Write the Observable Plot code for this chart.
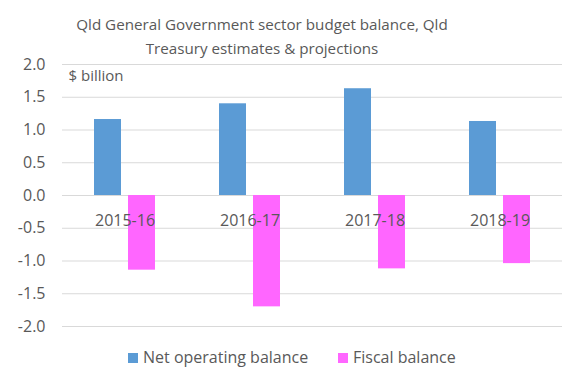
<!DOCTYPE html>
<html>
<head>
<meta charset="utf-8">
<script src="https://cdn.jsdelivr.net/npm/d3@7"></script>
<script src="https://cdn.jsdelivr.net/npm/@observablehq/plot@0.6"></script>
<style>
  body { margin: 0; background: #fff; }
  #wrap { position: relative; width: 578px; height: 383px; font-family: "Open Sans", sans-serif; color: #595959; }
  #title { position: absolute; left: 0; top: 12px; width: 524px; text-align: center; font-size: 15.2px; line-height: 24px; }
  .leg { position: absolute; top: 347px; font-size: 16px; line-height: 20px; white-space: nowrap; }
  .sw { display: inline-block; width: 10px; height: 10px; margin-right: 5px; vertical-align: 0px; }
  #chart { position: absolute; left: 0; top: 0; }
</style>
</head>
<body>
<div id="wrap">
  <div id="chart"></div>
  <div id="title">Qld General Government sector budget balance, Qld<br>Treasury estimates &amp; projections</div>
  <div id="legend"></div>
</div>
<script>
const years = ["2015-16", "2016-17", "2017-18", "2018-19"];
const series = ["Net operating balance", "Fiscal balance"];
const netOperating = [1.16, 1.40, 1.63, 1.13];
const fiscal = [-1.14, -1.70, -1.12, -1.04];
const colors = ["#5B9BD5", "#FF66FF"];
const yTicks = [-2, -1.5, -1, -0.5, 0, 0.5, 1, 1.5, 2];
const unitLabel = "$ billion";

const rows = [];
years.forEach((y, i) => {
  rows.push({year: y, series: series[0], value: netOperating[i]});
  rows.push({year: y, series: series[1], value: fiscal[i]});
});

const chart = Plot.plot({
  width: 578,
  height: 383,
  marginTop: 64,
  marginBottom: 57,
  marginLeft: 61,
  marginRight: 15,
  style: {fontFamily: "'Open Sans', sans-serif", fontSize: "16px", color: "#595959", background: "transparent"},
  fx: {domain: years, paddingInner: 0, paddingOuter: 0, axis: null},
  x: {domain: series, paddingInner: 0.2, paddingOuter: 0.893, axis: null},
  y: {domain: [-2, 2], axis: null},
  color: {domain: series, range: colors},
  marks: [
    Plot.ruleY(yTicks, {stroke: "#d9d9d9", strokeWidth: 1}),
    Plot.barY(rows, {fx: "year", x: "series", y: "value", fill: "series"}),
    Plot.text(years, {fx: d => d, y: d => 0, text: d => d, dy: 25, fill: "#595959", fontSize: 16}),
    Plot.text([unitLabel], {fx: d => years[0], frameAnchor: "top-left", dx: 6, dy: 6, fill: "#595959", fontSize: 15}),
    Plot.axisY(yTicks, {tickFormat: d => d.toFixed(1), tickSize: 0, tickPadding: 17, fontSize: 16, fill: "#595959", label: null})
  ]
});
document.getElementById("chart").appendChild(chart);

const legend = document.getElementById("legend");
const legLeft = [128, 338];
series.forEach((s, i) => {
  const d = document.createElement("div");
  d.className = "leg";
  d.style.left = legLeft[i] + "px";
  d.innerHTML = `<span class="sw" style="background:${colors[i]}"></span>${s}`;
  legend.appendChild(d);
});
</script>
</body>
</html>
